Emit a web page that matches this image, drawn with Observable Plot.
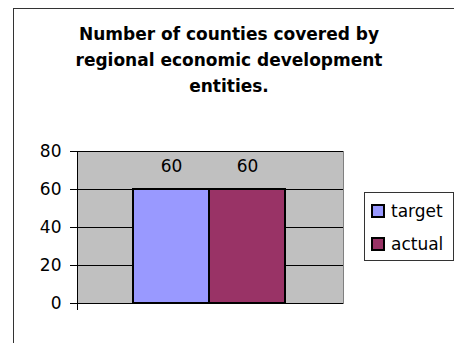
<!DOCTYPE html>
<html><head><meta charset="utf-8">
<script src="https://cdn.jsdelivr.net/npm/d3@7"></script>
<script src="https://cdn.jsdelivr.net/npm/@observablehq/plot@0.6"></script>
<style>
body{margin:0;background:#fff;font-family:"DejaVu Sans",sans-serif;}
#wrap{position:relative;width:454px;height:343px;overflow:hidden;}
#outer{position:absolute;left:13px;top:8px;width:460px;height:360px;border:1px solid #333;box-sizing:border-box;}
#title{position:absolute;left:0;top:21px;width:458px;text-align:center;font-weight:bold;font-size:17px;line-height:26px;color:#000;font-family:"DejaVu Sans",sans-serif;}
#legend{position:absolute;left:364px;top:192px;width:90px;height:69px;border:1px solid #333;box-sizing:border-box;background:#fff;}
.item{position:absolute;left:6px;font-size:17px;line-height:20px;color:#000;white-space:nowrap;}
.sw{display:inline-block;width:14px;height:14px;border:2px solid #000;box-sizing:border-box;margin-right:6px;vertical-align:-1px;}
#chart{position:absolute;left:0;top:0;}
</style></head>
<body><div id="wrap"><div id="outer"></div><div id="title"></div><div id="chart"></div><div id="legend"></div></div>
<script>
const titleLines = ["Number of counties covered by","regional economic development","entities."];
const categories = ["target","actual"];
const values = [60,60];
const colors = ["#9999FF","#993366"];
const yTicks = [0,20,40,60,80];

document.getElementById("title").innerHTML = titleLines.join("<br>");
const data = categories.map((c,i)=>({category:c,value:values[i],color:colors[i]}));

const chart = Plot.plot({
  width:454, height:343,
  marginLeft:77, marginRight:111, marginTop:151, marginBottom:40,
  style:{fontFamily:"DejaVu Sans, sans-serif", fontSize:"17px", color:"#000", background:"transparent"},
  x:{domain:categories, range:[133,285], padding:0, axis:null},
  y:{domain:[0,80]},
  marks:[
    Plot.frame({fill:"#C0C0C0", stroke:"#808080"}),
    Plot.gridY(yTicks, {stroke:"#000", strokeOpacity:1, strokeWidth:1}),
    Plot.axisY(yTicks, {tickSize:7, tickPadding:9, fontSize:17, label:null, stroke:"#000"}),
    Plot.frame({anchor:"left", stroke:"#000", insetBottom:-6}),
    Plot.barY(data, {x:"category", y:"value", fill:"color", stroke:"#000", strokeWidth:2, inset:0}),
    Plot.text(data, {x:"category", y:"value", text:d=>String(d.value), dy:-23, fontSize:17, fill:"#000"})
  ]
});
document.getElementById("chart").appendChild(chart);

const leg = document.getElementById("legend");
categories.forEach((c,i)=>{
  const d = document.createElement("div");
  d.className="item";
  d.style.top = (8 + i*33) + "px";
  d.innerHTML = `<span class="sw" style="background:${colors[i]}"></span>${c}`;
  leg.appendChild(d);
});
</script></body></html>
